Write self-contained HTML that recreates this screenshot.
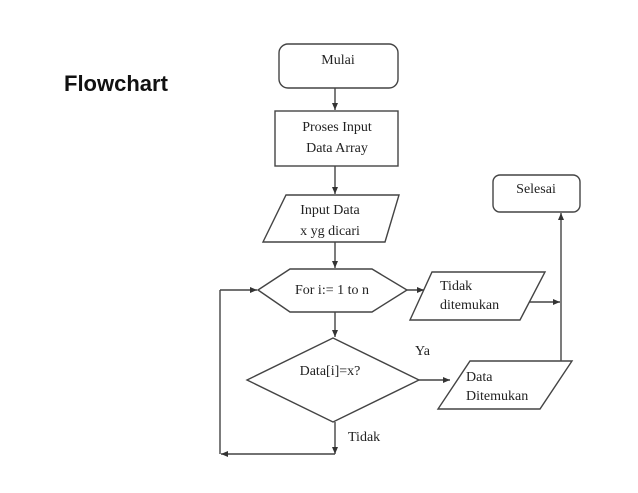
<!DOCTYPE html>
<html><head><style>body{margin:0;background:#fff}</style></head><body>
<svg width="638" height="493" xmlns="http://www.w3.org/2000/svg" style="display:block">
<defs><marker id="a" markerWidth="8" markerHeight="8" refX="7" refY="4" orient="auto" markerUnits="userSpaceOnUse"><path d="M0,1 L7,4 L0,7z" fill="#333"/></marker></defs>
<rect width="638" height="493" fill="#fff"/>
<text x="64" y="91" font-family="Liberation Sans, sans-serif" font-weight="bold" font-size="22" fill="#111">Flowchart</text>
<g fill="none" stroke="#444" stroke-width="1.4">
<rect x="279" y="44" width="119" height="44" rx="9"/>
<rect x="275" y="111" width="123" height="55"/>
<polygon points="286,195 399,195 385,242 263,242"/>
<rect x="493" y="175" width="87" height="37" rx="7"/>
<polygon points="258,290 290,269 372,269 407,290 372,312 290,312"/>
<polygon points="432,272 545,272 520,320 410,320"/>
<polygon points="333,338 419,380 333,422 247,380"/>
<polygon points="470,361 572,361 540,409 438,409"/>
<line x1="335" y1="88" x2="335" y2="110" marker-end="url(#a)"/>
<line x1="335" y1="166" x2="335" y2="194" marker-end="url(#a)"/>
<line x1="335" y1="242" x2="335" y2="268" marker-end="url(#a)"/>
<line x1="407" y1="290" x2="424" y2="290" marker-end="url(#a)"/>
<line x1="529" y1="302" x2="560" y2="302" marker-end="url(#a)"/>
<line x1="561" y1="361" x2="561" y2="213" marker-end="url(#a)"/>
<line x1="335" y1="312" x2="335" y2="337" marker-end="url(#a)"/>
<line x1="419" y1="380" x2="450" y2="380" marker-end="url(#a)"/>
<line x1="335" y1="422" x2="335" y2="454" marker-end="url(#a)"/>
<line x1="335" y1="454" x2="221" y2="454" marker-end="url(#a)"/>
<line x1="220" y1="454" x2="220" y2="290"/>
<line x1="220" y1="290" x2="257" y2="290" marker-end="url(#a)"/>
</g>
<g font-family="Liberation Serif, serif" font-size="14" fill="#222">
<text x="338" y="64" text-anchor="middle">Mulai</text>
<text x="337" y="131" text-anchor="middle">Proses Input</text>
<text x="337" y="152" text-anchor="middle">Data Array</text>
<text x="330" y="214" text-anchor="middle">Input Data</text>
<text x="330" y="235" text-anchor="middle">x yg dicari</text>
<text x="536" y="193" text-anchor="middle">Selesai</text>
<text x="332" y="294" text-anchor="middle">For i:= 1 to n</text>
<text x="440" y="290">Tidak</text>
<text x="440" y="309">ditemukan</text>
<text x="330" y="375" text-anchor="middle">Data[i]=x?</text>
<text x="466" y="381">Data</text>
<text x="466" y="400">Ditemukan</text>
<text x="415" y="355">Ya</text>
<text x="348" y="441">Tidak</text>
</g>
</svg>
</body></html>
